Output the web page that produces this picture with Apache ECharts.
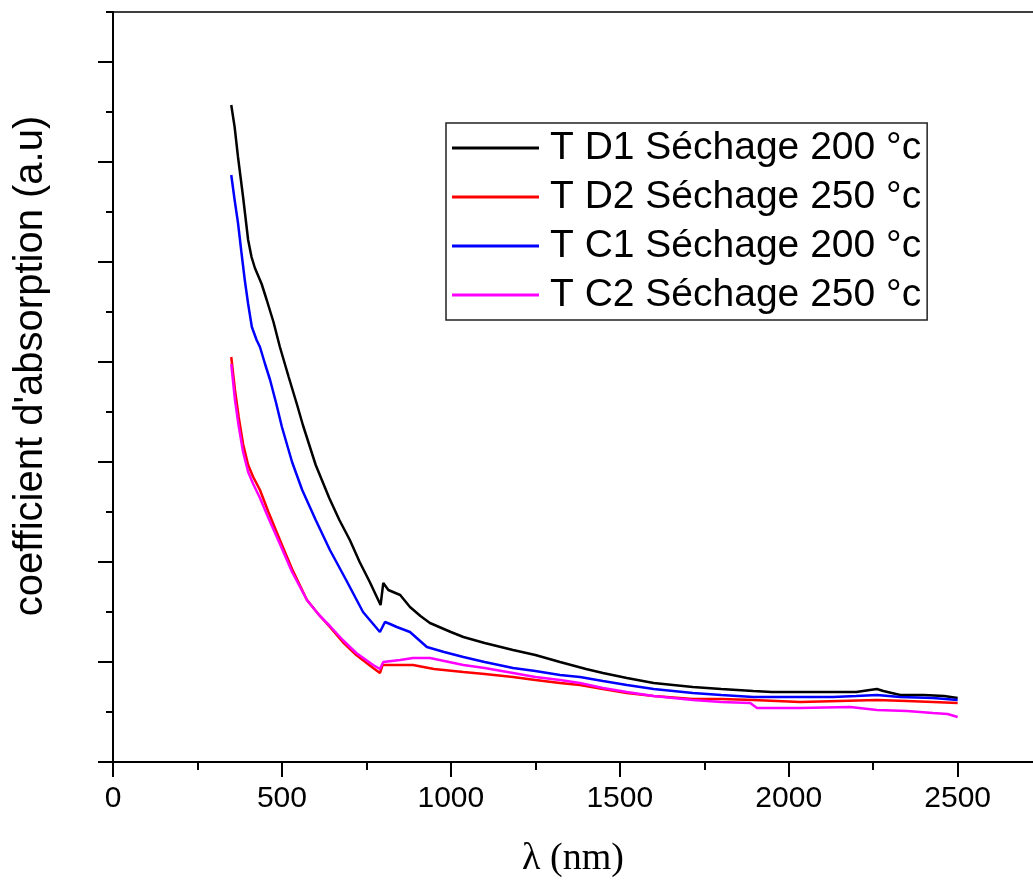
<!DOCTYPE html>
<html>
<head>
<meta charset="utf-8">
<script src="https://cdn.jsdelivr.net/npm/echarts@6/dist/echarts.min.js"></script>
<style>
html,body{margin:0;padding:0;background:#fff;}
#chart{width:1033px;height:888px;}
</style>
</head>
<body>
<div id="chart"></div>
<script>
// ---- data ----
var seriesNames = ['T D1 Séchage 200 °c', 'T D2 Séchage 250 °c', 'T C1 Séchage 200 °c', 'T C2 Séchage 250 °c'];
var seriesColors = ['#000000', '#ff0000', '#0000ff', '#ff00ff'];
var xTitle = 'λ (nm)';
var yTitle = "coefficient d'absorption (a.u)";

var d1X = [350,360,370,385,400,410,420,440,455,475,494,520,545,562,600,640,670,701,730,760,785,792,800,815,850,879,910,938,1000,1037,1100,1184,1250,1323,1400,1450,1521,1600,1716,1800,1895,1950,2050,2131,2200,2240,2261,2280,2330,2400,2460,2500];
var d1Y = [6.57,6.35,6.05,5.65,5.22,5.05,4.94,4.78,4.62,4.40,4.15,3.85,3.57,3.37,2.97,2.64,2.42,2.22,2.00,1.80,1.62,1.57,1.79,1.72,1.67,1.55,1.46,1.39,1.30,1.25,1.19,1.12,1.07,1.00,0.93,0.89,0.84,0.79,0.75,0.73,0.71,0.70,0.70,0.70,0.70,0.72,0.73,0.71,0.67,0.67,0.66,0.64];

var d2X = [350,361,372,385,400,415,435,460,494,530,574,610,642,680,720,770,790,798,850,888,950,1037,1100,1184,1250,1323,1382,1450,1521,1600,1716,1800,1895,2034,2150,2261,2350,2427,2500];
var d2Y = [4.05,3.72,3.45,3.18,2.97,2.85,2.72,2.50,2.22,1.93,1.62,1.47,1.35,1.20,1.07,0.94,0.89,0.97,0.97,0.97,0.93,0.90,0.88,0.85,0.82,0.79,0.77,0.73,0.69,0.66,0.63,0.63,0.62,0.60,0.61,0.62,0.61,0.60,0.59];

var c1X = [350,360,370,380,390,400,411,425,435,450,465,482,500,530,560,600,642,690,740,770,790,805,820,840,879,929,980,1037,1100,1184,1250,1323,1382,1450,1521,1600,1716,1800,1895,2000,2131,2200,2261,2330,2427,2500];
var c1Y = [5.87,5.62,5.39,5.10,4.82,4.58,4.35,4.22,4.15,3.98,3.82,3.60,3.35,3.00,2.72,2.42,2.12,1.82,1.50,1.38,1.30,1.40,1.38,1.35,1.30,1.15,1.10,1.05,1.00,0.94,0.91,0.87,0.85,0.81,0.77,0.73,0.69,0.67,0.65,0.65,0.65,0.66,0.67,0.65,0.64,0.62];

var c2X = [350,361,372,385,400,415,435,460,494,530,574,610,642,680,720,770,790,800,850,888,938,1037,1100,1184,1250,1323,1382,1450,1521,1600,1716,1800,1886,1906,2034,2182,2261,2350,2427,2470,2500];
var c2Y = [3.98,3.62,3.36,3.10,2.90,2.78,2.64,2.44,2.18,1.90,1.62,1.47,1.36,1.22,1.09,0.97,0.93,1.00,1.02,1.04,1.04,0.97,0.94,0.89,0.85,0.82,0.79,0.74,0.70,0.66,0.62,0.60,0.59,0.54,0.54,0.55,0.52,0.51,0.49,0.48,0.45];

var xMajorTicks = [0,500,1000,1500,2000,2500];
var xMinorTicks = [250,750,1250,1750,2250];
var yMajorTicks = [0,1,2,3,4,5,6,7];
var yMinorTicks = [0.5,1.5,2.5,3.5,4.5,5.5,6.5,7.5];

function pairs(xs, ys){ return xs.map(function(x,i){ return [x, ys[i]]; }); }
var allX = [d1X, d2X, c1X, c2X];
var allY = [d1Y, d2Y, c1Y, c2Y];

var FONT = "'Liberation Sans', Arial, sans-serif";
var gridRect = {left:113, top:12, right:0, bottom:126};
var X_MAX = 2723, Y_MAX = 7.5;

var chart = echarts.init(document.getElementById('chart'), null, {renderer:'canvas'});
var option = {
  backgroundColor:'#ffffff',
  animation:false,
  grid:[
    Object.assign({containLabel:false}, gridRect),
    Object.assign({containLabel:false}, gridRect)
  ],
  legend:{
    orient:'vertical', left:446, top:123,
    padding:[5,6,5,6],
    itemGap:9,
    itemWidth:87, itemHeight:3,
    icon:'rect',
    borderColor:'#222', borderWidth:1.5,
    backgroundColor:'#fff',
    data:seriesNames,
    textStyle:{fontFamily:FONT, fontSize:39, color:'#000', lineHeight:40, padding:[0,0,0,6]}
  },
  graphic:[
    {type:'text', x:31, y:366, rotation:Math.PI/2,
     style:{text:yTitle, fill:'#000', font:"40px 'Liberation Sans', Arial, sans-serif", textAlign:'center', textVerticalAlign:'middle'}}
  ],
  xAxis:[
    {gridIndex:0, type:'value', position:'bottom', min:0, max:X_MAX,
     axisLine:{show:true, onZero:false, lineStyle:{color:'#000', width:2}},
     axisTick:{show:true, customValues:xMajorTicks, length:15, lineStyle:{color:'#000', width:2}},
     axisLabel:{show:true, customValues:xMajorTicks, fontFamily:FONT, fontSize:30, color:'#000', margin:22,
                formatter:function(v){ return String(v); }},
     splitLine:{show:false},
     name:xTitle, nameLocation:'middle', nameGap:78,
     nameTextStyle:{fontFamily:"'Liberation Serif','Times New Roman',serif", fontSize:38, color:'#000'}},
    {gridIndex:0, type:'value', position:'top', min:0, max:X_MAX,
     axisLine:{show:true, onZero:false, lineStyle:{color:'#000', width:1.5}},
     axisTick:{show:false}, axisLabel:{show:false}, splitLine:{show:false}},
    {gridIndex:1, type:'value', position:'bottom', min:0, max:X_MAX,
     axisLine:{show:false, onZero:false},
     axisTick:{show:true, customValues:xMinorTicks, length:8, lineStyle:{color:'#000', width:2}},
     axisLabel:{show:false}, splitLine:{show:false}}
  ],
  yAxis:[
    {gridIndex:0, type:'value', position:'left', min:0, max:Y_MAX,
     axisLine:{show:true, onZero:false, lineStyle:{color:'#000', width:2}},
     axisTick:{show:true, customValues:yMajorTicks, length:15, lineStyle:{color:'#000', width:2}},
     axisLabel:{show:false}, splitLine:{show:false}},
    {gridIndex:1, type:'value', position:'left', min:0, max:Y_MAX,
     axisLine:{show:false, onZero:false},
     axisTick:{show:true, customValues:yMinorTicks, length:7, lineStyle:{color:'#000', width:2}},
     axisLabel:{show:false}, splitLine:{show:false}}
  ],
  series: seriesNames.map(function(n,i){
    return {
      name:n, type:'line', xAxisIndex:0, yAxisIndex:0,
      data:pairs(allX[i], allY[i]),
      showSymbol:false, symbol:'none',
      lineStyle:{color:seriesColors[i], width:2.5},
      itemStyle:{color:seriesColors[i]},
      z:2+i
    };
  })
};
chart.setOption(option);
</script>
</body>
</html>
